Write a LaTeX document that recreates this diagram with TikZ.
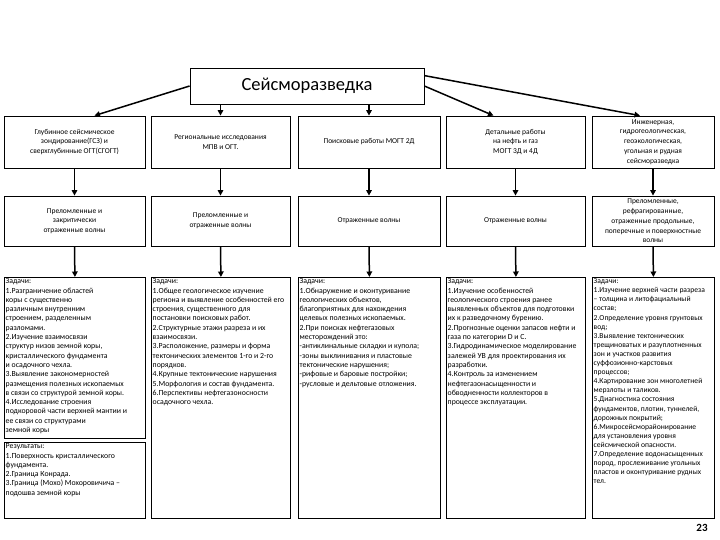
\documentclass[tikz,border=0pt]{standalone}
\usepackage{fontspec}
\setmainfont{Carlito}
\usetikzlibrary{arrows.meta,positioning,calc}

\begin{document}
\begin{tikzpicture}[x=1pt,y=-1pt,
  box/.style={rectangle, draw, line width=0.8pt, inner sep=0pt},
  head/.style={font=\fontsize{7.5}{9.8}\selectfont, align=center},
  task/.style={anchor=north west, inner sep=1.5pt,
               font=\fontsize{7.8}{9.3}\selectfont, align=left},
  arr/.style={-{Triangle[length=5.5pt,width=5.5pt]}, line width=1.5pt}
]
  \useasboundingbox[fill=white] (0,0) rectangle (720,540);

  % title
  \node[box, minimum width=234pt, minimum height=36pt,
        font=\fontsize{18.5}{20}\selectfont] (top) at (307,86) {Сейсморазведка};

  % first row: kinds of survey
  \node[box, head, minimum width=141pt, minimum height=52pt] (r1a) at (74.5,142)
    {Глубинное сейсмическое\\зондирование(ГСЗ) и\\сверхглубинные ОГТ(СГОГТ)};
  \node[box, head, minimum width=139pt, minimum height=52pt] (r1b) at (220.5,142)
    {Региональные исследования\\МПВ и ОГТ.};
  \node[box, head, minimum width=142pt, minimum height=52pt] (r1c) at (369,142)
    {Поисковые работы МОГТ 2Д};
  \node[box, head, minimum width=139pt, minimum height=52pt] (r1d) at (515.5,142)
    {Детальные работы\\на нефть и газ\\МОГТ 3Д и 4Д};
  \node[box, head, minimum width=122pt, minimum height=52pt] (r1e) at (653,142)
    {Инженерная,\\гидрогеологическая,\\геоэкологическая,\\угольная и рудная\\сейсморазведка};

  % second row: waves
  \node[box, head, minimum width=141pt, minimum height=50pt] (r2a) at (74.5,221)
    {Преломленные и\\закритически\\отраженные волны};
  \node[box, head, minimum width=139pt, minimum height=50pt] (r2b) at (220.5,221)
    {Преломленные и\\отраженные волны};
  \node[box, head, minimum width=142pt, minimum height=50pt] (r2c) at (369,221)
    {Отраженные волны};
  \node[box, head, minimum width=139pt, minimum height=50pt] (r2d) at (515.5,221)
    {Отраженные волны};
  \node[box, head, minimum width=122pt, minimum height=50pt] (r2e) at (653,221)
    {Преломленные,\\рефрагированные,\\отраженные продольные,\\поперечные и поверхностные\\волны};

  % third row: tasks
  \node[box, minimum width=141pt, minimum height=161pt, anchor=north west] (z1) at (4,277) {};
  \node[box, minimum width=141pt, minimum height=76pt, anchor=north west] (res1) at (4,442) {};
  \node[box, minimum width=139pt, minimum height=241pt, anchor=north west] (z2) at (151,277) {};
  \node[box, minimum width=142pt, minimum height=241pt, anchor=north west] (z3) at (298,277) {};
  \node[box, minimum width=139pt, minimum height=241pt, anchor=north west] (z4) at (446,277) {};
  \node[box, minimum width=122pt, minimum height=241pt, anchor=north west] (z5) at (592,277) {};

  \node[task] (z1t) at (z1.north west) {Задачи:\\
    1.Разграничение областей\\коры с существенно\\различным внутренним\\
    строением, разделенным\\разломами.\\2.Изучение взаимосвязи\\
    структур низов земной коры,\\кристаллического фундамента\\
    и осадочного чехла.\\3.Выявление закономерностей\\
    размещения полезных ископаемых\\в связи со структурой земной коры.\\
    4.Исследование строения\\подкоровой части верхней мантии и\\
    ее связи со структурами\\земной коры};
  \node[task] (res1t) at (res1.north west) {Результаты:\\
    1.Поверхность кристаллического\\фундамента.\\2.Граница Конрада.\\
    3.Граница (Мохо) Мохоровичича –\\подошва земной коры};
  \node[task] (z2t) at (z2.north west) {Задачи:\\
    1.Общее геологическое изучение\\региона и выявление особенностей его\\
    строения, существенного для\\постановки поисковых работ.\\
    2.Структурные этажи разреза и их\\взаимосвязи.\\
    3.Расположение, размеры и форма\\тектонических элементов 1-го и 2-го\\
    порядков.\\4.Крупные тектонические нарушения\\
    5.Морфология и состав фундамента.\\6.Перспективы нефтегазоносности\\
    осадочного чехла.};
  \node[task] (z3t) at (z3.north west) {Задачи:\\
    1.Обнаружение и оконтуривание\\геологических объектов,\\
    благоприятных для нахождения\\целевых полезных ископаемых.\\
    2.При поисках нефтегазовых\\месторождений это:\\
    -антиклинальные складки и купола;\\-зоны выклинивания и пластовые\\
    тектонические нарушения;\\-рифовые и баровые постройки;\\
    -русловые и дельтовые отложения.};
  \node[task] (z4t) at (z4.north west) {Задачи:\\
    1.Изучение особенностей\\геологического строения ранее\\
    выявленных объектов для подготовки\\их к разведочному бурению.\\
    2.Прогнозные оценки запасов нефти и\\газа по категории D и C.\\
    3.Гидродинамическое моделирование\\залежей УВ для проектирования их\\
    разработки.\\4.Контроль за изменением\\нефтегазонасыщенности и\\
    обводненности коллекторов в\\процессе эксплуатации.};
  \node[task, font=\fontsize{7.6}{9.1}\selectfont] (z5t) at (z5.north west) {Задачи:\\
    1.Изучение верхней части разреза\\– толщина и литофациальный\\состав;\\
    2.Определение уровня грунтовых\\вод;\\3.Выявление тектонических\\
    трещиноватых и разуплотненных\\зон и участков развития\\
    суффозионно-карстовых\\процессов;\\4.Картирование зон многолетней\\
    мерзлоты и таликов.\\5.Диагностика состояния\\
    фундаментов, плотин, туннелей,\\дорожных покрытий;\\
    6.Микросейсморайонирование\\для установления уровня\\
    сейсмической опасности.\\7.Определение водонасыщенных\\
    пород, прослеживание угольных\\пластов и оконтуривание рудных\\тел.};

  \node[font=\bfseries\fontsize{11}{13}\selectfont] (pg) at (702,528) {23};

  % connectors
  \draw[arr] (top.west) -- ([xshift=20pt]r1a.north);
  \draw[arr] (r1b.north |- top.south) -- (r1b.north);
  \draw[arr] (r1c.north |- top.south) -- (r1c.north);
  \draw[arr] (top.east) -- ([xshift=-22pt]r1d.north);
  \draw[arr] ([yshift=-8pt]top.north east) -- ([xshift=-13pt]r1e.north);
  \foreach \a/\b/\c in {a/a/1,b/b/2,c/c/3,d/d/4,e/e/5} {
    \draw[arr] (r1\a.south) -- (r2\b.north);
    \draw[arr] (r2\b.south) -- (z\c.north);
  }
\end{tikzpicture}
\end{document}
